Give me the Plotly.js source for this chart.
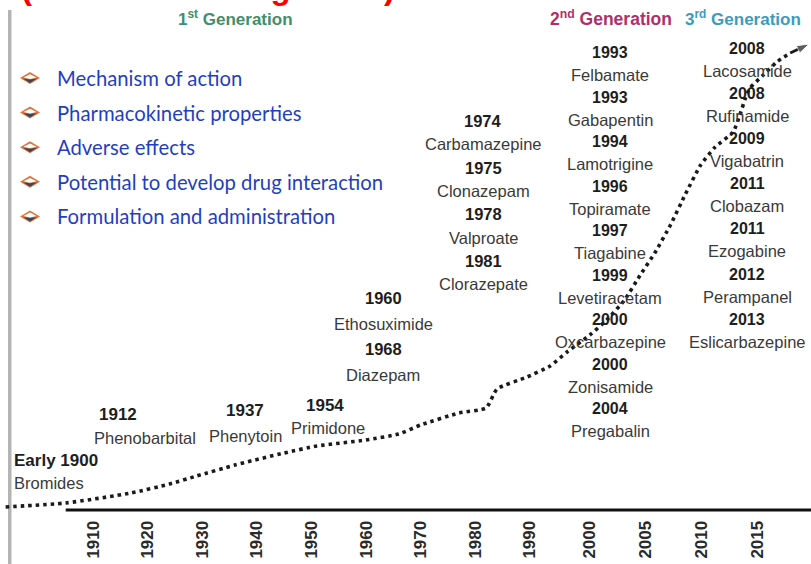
<!DOCTYPE html>
<html><head><meta charset="utf-8">
<script src="https://cdn.plot.ly/plotly-3.0.1.min.js"></script>
<style>html,body{margin:0;padding:0;background:#fff}#chart{width:811px;height:564px}</style>
</head><body><div id="chart"></div>
<script>
// ---------------- data ----------------
const tickYears = [1910,1920,1930,1940,1950,1960,1970,1980,1990,2000,2005,2010,2015];
const curveYears  = [1894,1905,1917,1924,1929,1936,1945,1951,1960,1966,1970,1977,1982,1984,1989.5,1993.4,1996.2,2000,2001.5,2003.1,2004.5,2005.8,2007.2,2008.5,2009.9,2011.2,2012.8,2013.4,2013.9,2014.3,2015.4,2016.7,2017.9];
const curveLevels = [3,7,17,26,34,45,57,64,70,76,85,97,102,121,133,144,158,175,190,210,235,257,285,315,345,363,378,395,412,422,434,448,457];
const arrowYears  = [2017.9, 2019.6];
const arrowLevels = [457, 466];
const generationNames = ["1<sup>st</sup> Generation","2<sup>nd</sup> Generation","3<sup>rd</sup> Generation"];
const drugYears = ["Early 1900","1912","1937","1954","1960","1968","1974","1975","1978","1981",
  "1993","1993","1994","1996","1997","1999","2000","2000","2004",
  "2008","2008","2009","2011","2011","2012","2013"];
const drugNames = ["Bromides","Phenobarbital","Phenytoin","Primidone","Ethosuximide","Diazepam","Carbamazepine","Clonazepam","Valproate","Clorazepate",
  "Felbamate","Gabapentin","Lamotrigine","Topiramate","Tiagabine","Levetiracetam","Oxcarbazepine","Zonisamide","Pregabalin",
  "Lacosamide","Rufinamide","Vigabatrin","Clobazam","Ezogabine","Perampanel","Eslicarbazepine"];
const drugGroups = [0,1,2,3,4,4,5,5,5,5,6,6,6,6,6,6,6,6,6,7,7,7,7,7,7,7];
const bulletItems = ["Mechanism of action","Pharmacokinetic properties","Adverse effects","Potential to develop drug interaction","Formulation and administration"];
const titleText = "(Historical Background)";

// ---------------- layout helpers ----------------
const W = 811, H = 564, PB = 510; // plot bottom pixel
const px = x => x / W;
const py = y => 1 - y / PB;
// piecewise time scale of the original axis
function toAxis(y){ if (y <= 1990) return y; if (y <= 2000) return 1990 + (y - 1990) * 1.1; return 2001 + (y - 2000) * 2.05; }
const xr = [1910 - 93/5.46, 1910 + 718/5.46];

const FONT = "Liberation Sans, Arial, sans-serif";
const yearFont = {family: FONT, size: 16, color: '#1e1e1e', weight: 700};
const nameFont = {family: FONT, size: 16.5, color: '#3a3a3a'};

// label group placement (pixels)
const groupPos = {
  0: {single: true, year: [12,460,'left'], name: [12,483,'left']},
  1: {single: true, year: [118,414,'center'], name: [145,438,'center']},
  2: {single: true, year: [245,410,'center'], name: [245,436,'center']},
  3: {single: true, year: [325,405,'center'], name: [328,428,'center']},
  4: {x: 383, y0: 298, step: 25.7, ys: 16.5},
  5: {x: 483, y0: 121, step: 23.3, ys: 16.5},
  6: {x: 610, y0: 53, step: 22.24, ys: 16},
  7: {x: 747, y0: 48, step: 22.6, ys: 16}
};

const annotations = [];
const rowCount = {};
drugYears.forEach((yr, i) => {
  const g = drugGroups[i], p = groupPos[g];
  if (p.single) {
    annotations.push({xref:'paper', yref:'paper', x: px(p.year[0]), y: py(p.year[1]), xanchor: p.year[2], yanchor:'middle', text: yr, showarrow:false, font: Object.assign({}, yearFont, {size:17})});
    annotations.push({xref:'paper', yref:'paper', x: px(p.name[0]), y: py(p.name[1]), xanchor: p.name[2], yanchor:'middle', text: drugNames[i], showarrow:false, font: nameFont});
  } else {
    const r = rowCount[g] || 0;
    annotations.push({xref:'paper', yref:'paper', x: px(p.x), y: py(p.y0 + r*p.step), xanchor:'center', yanchor:'middle', text: yr, showarrow:false, font: Object.assign({}, yearFont, {size: p.ys})});
    annotations.push({xref:'paper', yref:'paper', x: px(p.x), y: py(p.y0 + (r+1)*p.step), xanchor:'center', yanchor:'middle', text: drugNames[i], showarrow:false, font: nameFont});
    rowCount[g] = r + 2;
  }
});

// generation headers
const genX = [235, 611, 743], genC = ['#3f8e6c', '#b02f6b', '#3a9cbd'];
generationNames.forEach((t, i) => annotations.push({xref:'paper', yref:'paper', x: px(genX[i]), y: py(18), xanchor:'center', yanchor:'middle', text: t, showarrow:false, font:{family: FONT, size: i===1?17.5:17, color: genC[i], weight: 700}}));

// bullets
const shapes = [];
bulletItems.forEach((t, i) => {
  const cy = 78 + i * 34.6, cx = 30;
  annotations.push({xref:'paper', yref:'paper', x: px(55), y: py(cy), xanchor:'left', yanchor:'middle', text: t, showarrow:false, font:{family:'Lato, Carlito, sans-serif', size: 20.3, color:'#1f3fbf'}});
  const P = pts => 'M' + pts.map(q => px(q[0]) + ',' + py(q[1])).join('L') + 'Z';
  shapes.push({type:'path', xref:'paper', yref:'paper', path: P([[cx-10,cy],[cx,cy-6],[cx+10,cy],[cx,cy+6]]), fillcolor:'#e0743a', line:{width:0}});
  shapes.push({type:'path', xref:'paper', yref:'paper', path: P([[cx-6.5,cy-0.5],[cx,cy-3.8],[cx+6.5,cy-0.5],[cx,cy+1]]), fillcolor:'#ffffff', line:{width:0}});
  shapes.push({type:'path', xref:'paper', yref:'paper', path: P([[cx-7,cy+0.5],[cx,cy+1.5],[cx+7,cy+0.5],[cx,cy+5]]), fillcolor:'#3a4658', line:{width:0}});
});

// title fragment (cut by the top edge, only descenders show)
annotations.push({xref:'paper', yref:'paper', x: px(208), y: py(8), xanchor:'center', yanchor:'bottom', text: titleText, showarrow:false, font:{family: FONT, size: 33, color:'#ff0000', weight: 700}});

// left border bar & axis line
shapes.push({type:'rect', xref:'paper', yref:'paper', x0: px(8), x1: px(11.5), y0: py(10), y1: py(H), fillcolor:'#b4b4b4', line:{width:0}, layer:'below'});
shapes.push({type:'line', xref:'x', yref:'paper', x0: toAxis(1905), x1: xr[1], y0: 0, y1: 0, line:{color:'#111', width:3}});

const traces = [
  {x: curveYears.map(toAxis), y: curveLevels, mode:'lines', line:{color:'#1a1a1a', width:3.6, dash:'3.5px,4px', shape:'spline', smoothing:0.5}, hoverinfo:'skip'},
  {x: arrowYears.map(toAxis), y: arrowLevels, mode:'lines+markers', line:{color:'#1a1a1a', width:3}, marker:{symbol:['circle','arrow'], size:[0,13], angleref:'previous', color:'#1a1a1a'}, hoverinfo:'skip'}
];

const layout = {
  width: W, height: H, showlegend: false,
  margin: {l:0, r:0, t:0, b: H - PB, pad: 0},
  paper_bgcolor:'#fff', plot_bgcolor:'rgba(0,0,0,0)',
  xaxis: {range: xr, showgrid:false, zeroline:false, showline:false, tickmode:'array', tickvals: tickYears.map(toAxis), ticktext: tickYears.map(String), tickangle:-90, ticks:'outside', ticklen:3, tickcolor:'rgba(0,0,0,0)', tickfont:{family: FONT, size:17, color:'#2a2a2a', weight:700}, fixedrange:true},
  yaxis: {range: [0, PB], visible:false, fixedrange:true},
  annotations, shapes
};
Plotly.newPlot('chart', traces, layout, {staticPlot:true});
</script></body></html>
